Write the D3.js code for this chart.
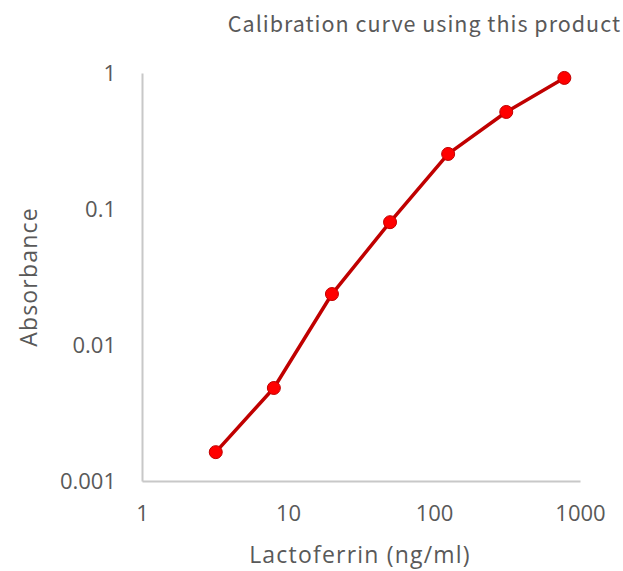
<!DOCTYPE html>
<html>
<head>
<meta charset="utf-8">
<script src="https://cdn.jsdelivr.net/npm/d3@7"></script>
<style>
  body { margin: 0; background: #fff; }
  svg text { font-family: "Open Sans", "Noto Sans", sans-serif; fill: #595959; }
  svg text.title { font-family: "Noto Sans CJK JP", sans-serif; }
</style>
</head>
<body>
<div id="chart"></div>
<script>
// Lactoferrin concentration (ng/ml) vs absorbance
const conc = [3.2, 8, 20, 50, 125, 312.5, 781.25];
const absorbance = [0.00163, 0.00483, 0.0237, 0.080, 0.254, 0.517, 0.92];
const xTicks = [1, 10, 100, 1000];
const yTicks = [0.001, 0.01, 0.1, 1];

const w = 623, h = 571;
const padL = 142, padR = 580, padT = 73, padB = 481;

const svg = d3.select('#chart').append('svg')
  .attr('width', w)
  .attr('height', h);

const xScale = d3.scaleLog().domain([1, 1000]).range([padL, padR]);
const yScale = d3.scaleLog().domain([0.001, 1]).range([padB, padT]);

// title
svg.append('text')
  .attr('class', 'title')
  .attr('x', 621).attr('y', 32)
  .attr('text-anchor', 'end')
  .style('font-size', '21.5px')
  .style('letter-spacing', '1px')
  .text('Calibration curve using this product');

// x axis
const xAxis = svg.append('g')
  .attr('transform', `translate(0,${padB})`)
  .call(d3.axisBottom(xScale).tickValues(xTicks).tickSize(0).tickPadding(24).tickFormat(d => d.toString()));
xAxis.select('.domain').attr('stroke', '#c8c8c8').attr('stroke-width', 2);
xAxis.selectAll('text').style('font-size', '22px').attr('fill', '#595959');

// y axis
const yAxis = svg.append('g')
  .attr('transform', `translate(${padL},0)`)
  .call(d3.axisLeft(yScale).tickValues(yTicks).tickSize(0).tickPadding(26).tickFormat(d => d.toString()));
yAxis.select('.domain').attr('stroke', '#c8c8c8').attr('stroke-width', 2);
yAxis.selectAll('text').style('font-size', '22px').attr('fill', '#595959');

// axis titles
svg.append('text')
  .attr('x', (padL + padR) / 2 - 1).attr('y', 563)
  .attr('text-anchor', 'middle')
  .style('font-size', '23px')
  .style('letter-spacing', '1.2px')
  .text('Lactoferrin (ng/ml)');

svg.append('text')
  .attr('transform', `translate(37,${(padT + padB) / 2}) rotate(-90)`)
  .attr('text-anchor', 'middle')
  .style('font-size', '23px')
  .style('letter-spacing', '1.2px')
  .text('Absorbance');

// line + markers
const pts = conc.map((c, i) => ({ x: c, y: absorbance[i] }));

svg.append('path')
  .datum(pts)
  .attr('fill', 'none')
  .attr('stroke', '#c00000')
  .attr('stroke-width', 3.5)
  .attr('stroke-linejoin', 'round')
  .attr('d', d3.line().x(d => xScale(d.x)).y(d => yScale(d.y)));

svg.selectAll('circle')
  .data(pts)
  .enter()
  .append('circle')
  .attr('cx', d => xScale(d.x))
  .attr('cy', d => yScale(d.y))
  .attr('r', 6.5)
  .attr('fill', '#ff0000')
  .attr('stroke', '#c00000')
  .attr('stroke-width', 1);
</script>
</body>
</html>
